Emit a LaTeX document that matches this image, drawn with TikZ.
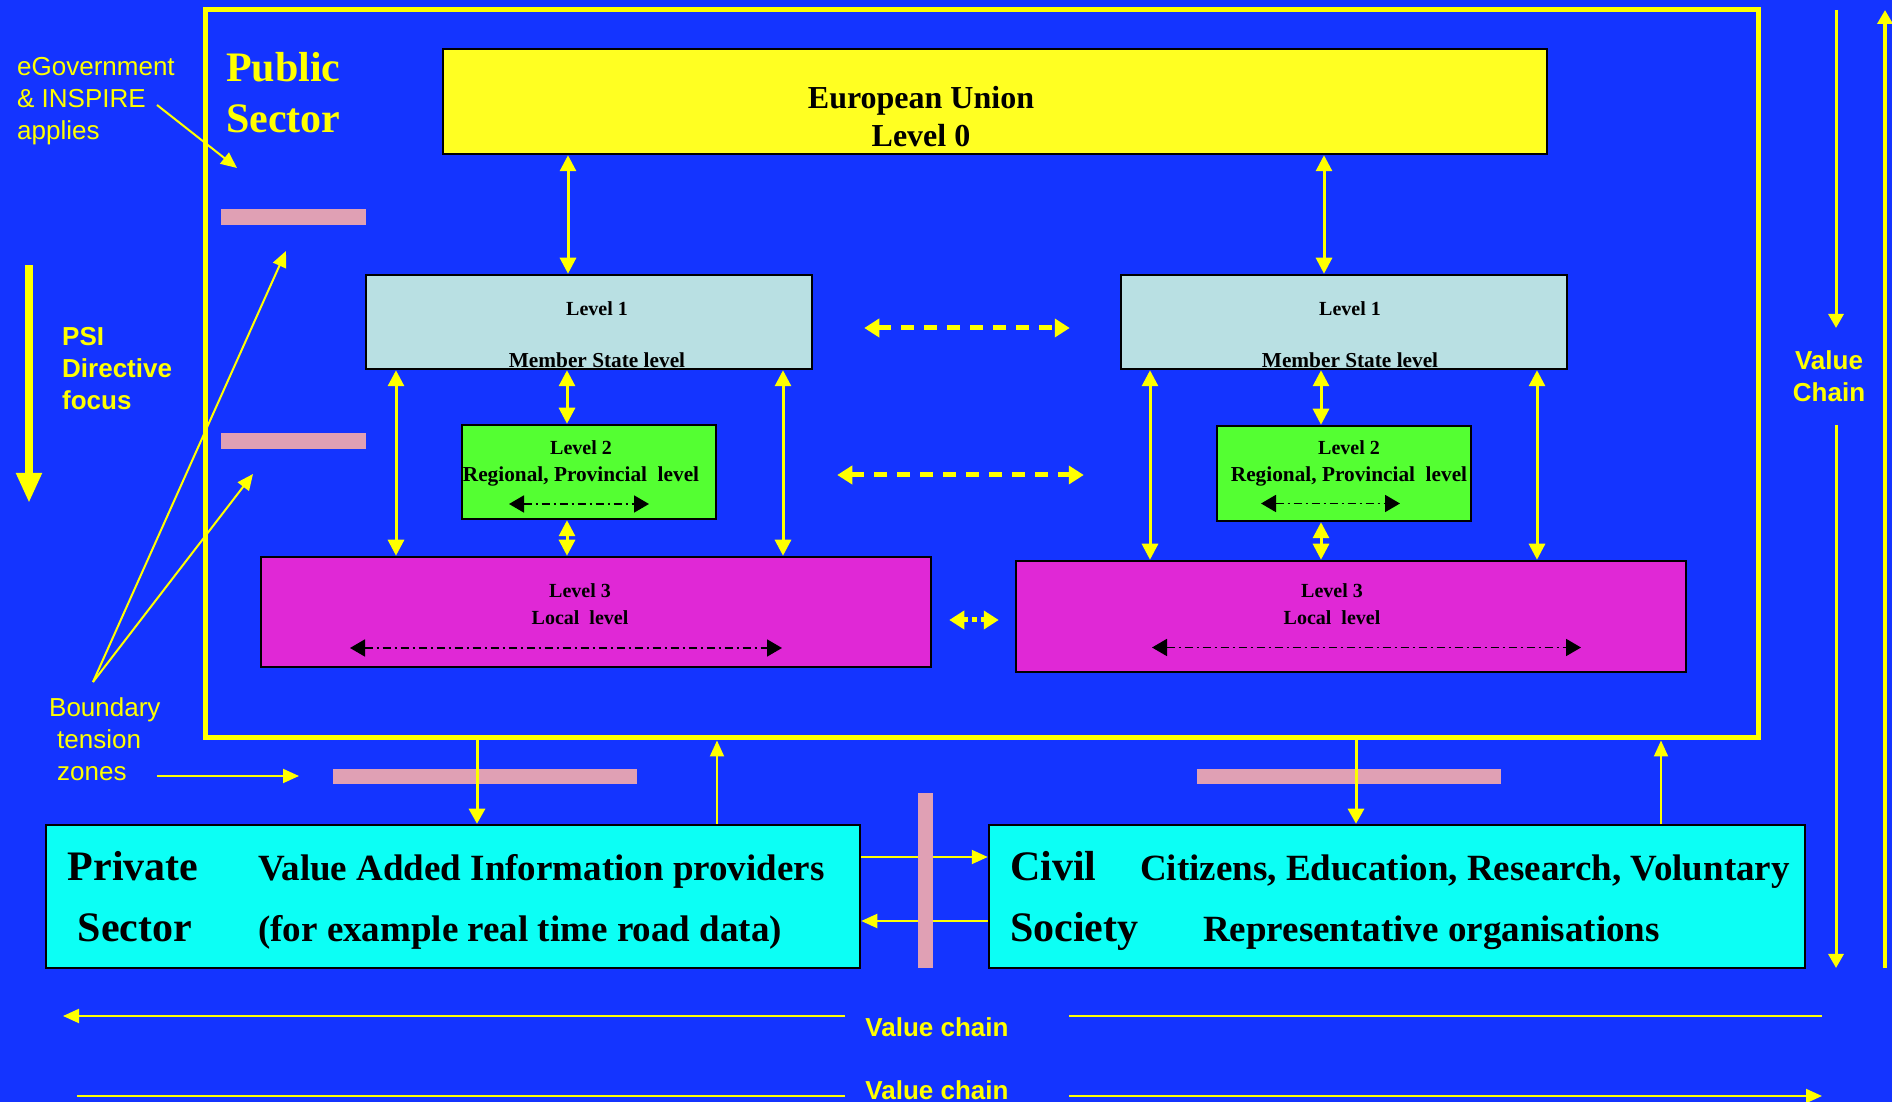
\documentclass[tikz,border=0pt]{standalone}
\usepackage{fontspec}
\setmainfont{Liberation Serif}
\setsansfont{Liberation Sans}
\usetikzlibrary{arrows.meta}

\definecolor{bgblue}{RGB}{20,52,255}
\definecolor{sigyellow}{RGB}{255,255,0}
\definecolor{euyellow}{RGB}{255,255,34}
\definecolor{msblue}{RGB}{185,224,227}
\definecolor{rggreen}{RGB}{84,255,50}
\definecolor{lcmagenta}{RGB}{224,40,214}
\definecolor{sccyan}{RGB}{12,255,245}
\definecolor{zonepink}{RGB}{224,160,180}

\tikzset{
  lvbox/.style={draw=black, line width=2.5pt, inner sep=0pt},
  lvtext/.style={font=\bfseries\fontsize{20}{25}\selectfont, inner sep=0pt},
  lvwide/.style={font=\bfseries\fontsize{21.3}{25}\selectfont, inner sep=0pt},
  bigtext/.style={font=\bfseries\fontsize{42}{50}\selectfont, inner sep=0pt, anchor=base},
  midtext/.style={font=\bfseries\fontsize{37}{44}\selectfont, inner sep=0pt, anchor=base west},
  note/.style={font=\sffamily\fontsize{26}{32}\selectfont, text=sigyellow, inner sep=0pt, align=left},
  boldnote/.style={font=\sffamily\bfseries\fontsize{26}{32}\selectfont, text=sigyellow, inner sep=0pt},
  lvarr/.style={draw=sigyellow, line width=3pt, >={Triangle[width=16pt,length=16pt]}, <->},
  xarr/.style={draw=sigyellow, line width=5pt, dash pattern=on 13pt off 10pt, >={Triangle[width=18pt,length=15pt]}, <->},
  inarr/.style={draw=black, line width=1.8pt, dash pattern=on 8pt off 4pt on 2pt off 4pt, >={Triangle[width=17pt,length=15pt]}, <->},
  hintarr/.style={draw=sigyellow, line width=2pt, >={Triangle[width=14pt,length=16pt]}, ->},
  sidearr/.style={draw=sigyellow, line width=3pt, >={Triangle[width=16pt,length=15pt]}, ->},
  vcarr/.style={draw=sigyellow, line width=3pt, >={Triangle[width=15pt,length=14pt]}, ->},
  psiarr/.style={draw=sigyellow, line width=8pt, >={Triangle[width=24pt,length=30pt]}, ->},
  pinkbar/.style={fill=zonepink}
}

\begin{document}
\begin{tikzpicture}[x=1pt,y=1pt]
  \fill[bgblue] (0,0) rectangle (1892,1102);
  \useasboundingbox (0,0) rectangle (1892,1102);

  \node (public) [draw=sigyellow, line width=5pt, inner sep=0pt, minimum width=1553pt, minimum height=728pt] at (981.5,728) {};
  \node (pubsec) [anchor=north west, inner sep=0pt, align=left, text=sigyellow, font=\bfseries\fontsize{42}{51}\selectfont] at (226,1050) {Public\\Sector};

  \fill[pinkbar] (221,893) rectangle (366,877);
  \fill[pinkbar] (221,669) rectangle (366,653);
  \fill[pinkbar] (333,333) rectangle (637,318);
  \fill[pinkbar] (1197,333) rectangle (1501,318);

  \node (eu) [lvbox, fill=euyellow, minimum width=1104pt, minimum height=105pt] at (995,1000.5) {};
  \node (eutext) [align=center, font=\bfseries\fontsize{32}{38}\selectfont] at (921,985) {European Union\\Level 0};

  \node (l1a) [lvbox, fill=msblue, minimum width=446pt, minimum height=94pt] at (589,780) {};
  \node (l1b) [lvbox, fill=msblue, minimum width=446pt, minimum height=94pt] at (1344,780) {};
  \node (l2a) [lvbox, fill=rggreen, minimum width=254pt, minimum height=94pt] at (589,630) {};
  \node (l2b) [lvbox, fill=rggreen, minimum width=254pt, minimum height=95pt] at (1344,628.5) {};
  \node (l3a) [lvbox, fill=lcmagenta, minimum width=670pt, minimum height=110pt] at (596,490) {};
  \node (l3b) [lvbox, fill=lcmagenta, minimum width=670pt, minimum height=111pt] at (1351,485.5) {};

  \node (t1a) [lvtext] at ([shift={(8,13)}]l1a.center) {Level 1};
  \node (m1a) [lvwide] at ([shift={(8,-38)}]l1a.center) {Member State level};
  \node (t1b) [lvtext] at ([shift={(6,13)}]l1b.center) {Level 1};
  \node (m1b) [lvwide] at ([shift={(6,-38)}]l1b.center) {Member State level};
  \node (t2a) [lvtext] at ([shift={(-8,24)}]l2a.center) {Level 2};
  \node (r2a) [lvwide] at ([shift={(-8,-4)}]l2a.center) {Regional, Provincial~ level};
  \node (t2b) [lvtext] at ([shift={(5,25.5)}]l2b.center) {Level 2};
  \node (r2b) [lvwide] at ([shift={(5,-2.5)}]l2b.center) {Regional, Provincial~ level};
  \node (t3a) [lvtext] at ([shift={(-16,21)}]l3a.center) {Level 3};
  \node (c3a) [lvtext] at ([shift={(-16,-6)}]l3a.center) {Local~ level};
  \node (t3b) [lvtext] at ([shift={(-19,25.5)}]l3b.center) {Level 3};
  \node (c3b) [lvtext] at ([shift={(-19,-1.5)}]l3b.center) {Local~ level};

  \draw[inarr] ([shift={(-80,-32)}]l2a.center) -- ([shift={(60,-32)}]l2a.center);
  \draw[inarr] ([shift={(-83,-30)}]l2b.center) -- ([shift={(56,-30)}]l2b.center);
  \draw[inarr] ([shift={(-246,-36)}]l3a.center) -- ([shift={(186,-36)}]l3a.center);
  \draw[inarr] ([shift={(-199,-31)}]l3b.center) -- ([shift={(230,-31)}]l3b.center);

  \draw[lvarr] (568,0 |- eu.south) -- (568,0 |- l1a.north);
  \draw[lvarr] (1324,0 |- eu.south) -- (1324,0 |- l1b.north);
  \draw[lvarr] (396,0 |- l1a.south) -- (396,0 |- l3a.north);
  \draw[lvarr] (783,0 |- l1a.south) -- (783,0 |- l3a.north);
  \draw[lvarr] (567,0 |- l1a.south) -- (567,0 |- l2a.north);
  \draw[lvarr] (567,0 |- l2a.south) -- (567,0 |- l3a.north);
  \draw[lvarr] (1150,0 |- l1b.south) -- (1150,0 |- l3b.north);
  \draw[lvarr] (1537,0 |- l1b.south) -- (1537,0 |- l3b.north);
  \draw[lvarr] (1321,0 |- l1b.south) -- (1321,0 |- l2b.north);
  \draw[lvarr] (1321,0 |- l2b.south) -- (1321,0 |- l3b.north);

  \draw[xarr, shorten <=51pt, shorten >=50pt] ([yshift=-6pt]l1a.east) -- ([yshift=-6pt]l1b.west);
  \draw[xarr, shorten <=120pt, shorten >=132pt] ([yshift=-3pt]l2a.east) -- ([yshift=-1.5pt]l2b.west);
  \draw[xarr, dash pattern=on 5pt off 4pt, shorten <=17pt, shorten >=16pt] ([yshift=-8pt]l3a.east) -- ([yshift=-3.5pt]l3b.west);

  \node (priv) [lvbox, fill=sccyan, minimum width=814pt, minimum height=143pt] at (453,205.5) {};
  \node (civ) [lvbox, fill=sccyan, minimum width=816pt, minimum height=143pt] at (1397,205.5) {};
  \node (privname) [bigtext, align=center] at (133,221) {Private};
  \node (privsec) [bigtext] at (135,160) {Sector};
  \node (privrole) [midtext] at (258,221) {Value Added Information providers};
  \node (privex) [midtext] at (258,160) {(for example real time road data)};
  \node (civname) [bigtext, anchor=base west] at (1010,221) {Civil};
  \node (civsoc) [bigtext, anchor=base west] at (1010,160) {Society};
  \node (civrole) [midtext] at (1140,221) {Citizens, Education, Research, Voluntary};
  \node (civorg) [midtext] at (1203,160) {Representative organisations};

  \draw[sidearr] (477,0 |- public.south) -- (477,0 |- priv.north);
  \draw[hintarr] (717,0 |- priv.north) -- (717,0 |- public.south);
  \draw[sidearr] (1356,0 |- public.south) -- (1356,0 |- civ.north);
  \draw[hintarr] (1661,0 |- civ.north) -- (1661,0 |- public.south);
  \draw[hintarr] (priv.east |- 0,245) -- (civ.west |- 0,245);
  \draw[hintarr] (civ.west |- 0,181) -- (priv.east |- 0,181);
  \fill[pinkbar] (918,309) rectangle (933,134);

  \node (egov) [note, anchor=north west] at (17,1045) {eGovernment\\\& INSPIRE\\applies};
  \node (psi) [boldnote, anchor=north west, align=left] at (62,775) {PSI\\Directive\\focus};
  \node (btz) [note, anchor=north west] at (57,405) {\hspace*{-8pt}Boundary\\tension\\zones};
  \node (vcr) [boldnote, align=center] at (1829,726) {Value\\Chain};
  \node (vca) [boldnote] at (937,75) {Value chain};
  \node (vcb) [boldnote] at (937,12) {Value chain};

  \coordinate (egov-a) at (157,997);
  \coordinate (egov-b) at (237,934);
  \coordinate (btz-o) at (93,420);
  \coordinate (btz-a) at (286,851);
  \coordinate (btz-b) at (253,628);
  \coordinate (zn-a) at (157,326);
  \coordinate (zn-b) at (299,326);
  \coordinate (psi-a) at (29,837);
  \coordinate (psi-b) at (29,599);
  \coordinate (vc-top) at (1836,1092);
  \coordinate (vc-mid) at (1836,774);
  \coordinate (vc-low) at (1836,677);
  \coordinate (vc-bot) at (1836,134);
  \coordinate (vf-bot) at (1885,134);
  \coordinate (vf-top) at (1885,1092);
  \coordinate (vca-l) at (845,86);
  \coordinate (vca-ll) at (63,86);
  \coordinate (vca-r) at (1069,86);
  \coordinate (vca-rr) at (1822,86);
  \coordinate (vcb-ll) at (77,6);
  \coordinate (vcb-l) at (845,6);
  \coordinate (vcb-r) at (1069,6);
  \coordinate (vcb-rr) at (1822,6);

  \draw[hintarr] (egov-a) -- (egov-b);
  \draw[hintarr] (btz-o) -- (btz-a);
  \draw[hintarr] (btz-o) -- (btz-b);
  \draw[hintarr] (zn-a) -- (zn-b);
  \draw[psiarr] (psi-a) -- (psi-b);
  \draw[vcarr] (vc-top) -- (vc-mid);
  \draw[vcarr] (vc-low) -- (vc-bot);
  \draw[vcarr, line width=4pt] (vf-bot) -- (vf-top);
  \draw[hintarr] (vca-l) -- (vca-ll);
  \draw[hintarr, -] (vca-r) -- (vca-rr);
  \draw[hintarr, -] (vcb-ll) -- (vcb-l);
  \draw[hintarr] (vcb-r) -- (vcb-rr);
\end{tikzpicture}
\end{document}
